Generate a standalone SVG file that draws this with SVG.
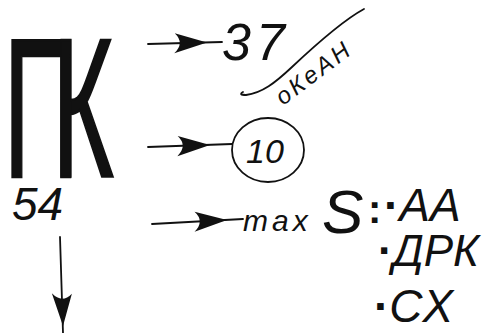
<svg xmlns="http://www.w3.org/2000/svg" width="493" height="333" viewBox="0 0 493 333">
<style>
.h{font-family:"Liberation Sans",Arial,sans-serif;font-style:italic;fill:#111}
.ln{stroke:#111;stroke-width:1.8;fill:none;stroke-linecap:round}
.dt{font-weight:bold;font-style:normal}
</style>
<defs>
<path id="ah" d="M0,0 L-32,-10 Q-22,0 -33,10 Z" fill="#111"/>
</defs>
<rect width="493" height="333" fill="#fff"/>
<g id="pk">
<text transform="translate(3.6,177) scale(0.53,1)" x="0" y="0" font-family="Liberation Sans,Arial,sans-serif" font-size="198" letter-spacing="-50" fill="#111" stroke="#111" stroke-width="2.5">ПК</text>
</g>
<g id="n54"><text class="h" x="12" y="220" font-size="46">54</text></g>
<g id="n37"><text class="h" x="222" y="60" font-size="52" letter-spacing="5">37</text></g>
<g id="ocean">
<path class="ln" d="M243,92 Q238,95 246,95 C262,93 275,83 292,67 S340,22 364,9" stroke-width="1.5"/>
<text class="h" transform="translate(283,106) rotate(-37)" font-size="24" font-style="normal" letter-spacing="3">оКеАН</text>
</g>
<g id="n10">
<ellipse cx="268" cy="150" rx="36" ry="32" class="ln"/>
<text class="h" x="246" y="163" font-size="34">10</text>
</g>
<g id="maxS">
<text class="h" x="243" y="231" font-size="30" letter-spacing="4">max</text>
<text class="h" x="322" y="233" font-size="62" font-style="normal">S</text>
<text class="h dt" x="368" y="223" font-size="40">:</text>
</g>
<g id="aa"><text class="h" x="384" y="221" font-size="46"><tspan class="dt">·</tspan>AA</text></g>
<g id="drk"><text class="h" x="378" y="266" font-size="44"><tspan class="dt">·</tspan>ДРК</text></g>
<g id="cx"><text class="h" x="374" y="322" font-size="46"><tspan class="dt">·</tspan>CX</text></g>
<g id="connectors">
<path class="ln" d="M148,44 L222,42"/>
<use href="#ah" transform="translate(207,42.5) rotate(-1.5)"/>
<path class="ln" d="M148,147 L232,144"/>
<use href="#ah" transform="translate(210,145) rotate(-2)"/>
<path class="ln" d="M152,224 L243,219"/>
<use href="#ah" transform="translate(227,220) rotate(-3)"/>
<path class="ln" d="M60,237 L63,333"/>
<use href="#ah" transform="translate(63,326) rotate(88)"/>
</g>
</svg>
